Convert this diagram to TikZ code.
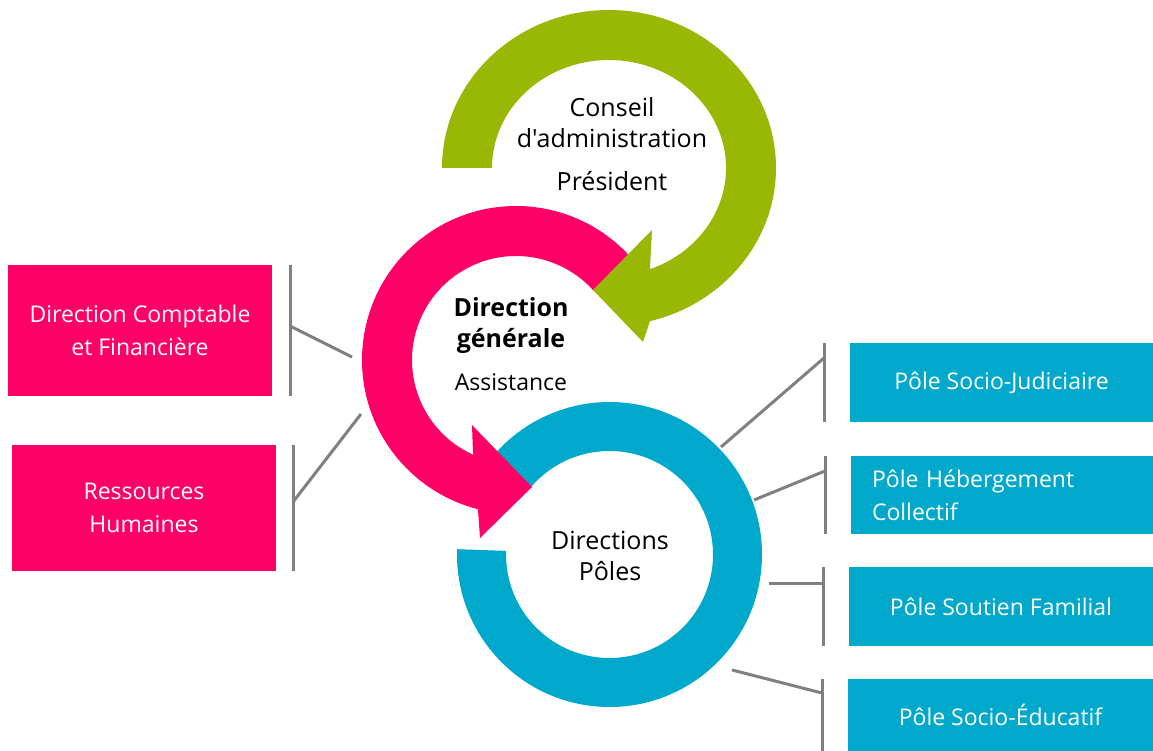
\documentclass[tikz,border=0pt]{standalone}
\usepackage{fontspec}
\setmainfont{Open Sans}[Ligatures=TeXOff]
\definecolor{vertConseil}{RGB}{153,184,5}
\definecolor{roseDir}{RGB}{255,0,102}
\definecolor{bleuPole}{RGB}{0,168,204}
\definecolor{grisTrait}{RGB}{128,128,128}

\begin{document}
\begin{tikzpicture}[x=1pt, y=-1pt,
		boite/.style={rectangle, inner sep=0pt, align=center, text=white,
			font=\fontsize{23}{33}\selectfont},
		centre/.style={align=center, inner sep=0pt, font=\fontsize{25}{31}\selectfont},
		trait/.style={draw=grisTrait, line width=3pt}
		]
		\useasboundingbox (0,0) rectangle (1153,751);
		
		% anneaux fleches
		\fill[bleuPole] ([shift={(609.5,554.5)}]182:152.5) arc[start angle=182, end angle=-139, radius=152.5]
		-- ([shift={(609.5,554.5)}]-139:103.5) arc[start angle=-139, end angle=182, radius=103.5] -- cycle;
		\fill[roseDir] ([shift={(516,360)}]-42:154) arc[start angle=-42, end angle=-255.7, radius=154]
		-- (480,538) -- (532,487) -- (472,425)
		-- ([shift={(516,360)}]-245.6:104) arc[start angle=-245.6, end angle=-42, radius=104] -- cycle;
		\fill[vertConseil] ([shift={(609,168)}]180:167 and 158) arc[start angle=180, end angle=435.8, x radius=167, y radius=158]
		-- (643,342) -- (593,290) -- (652,230)
		-- ([shift={(609,168)}]429.5:117 and 108) arc[start angle=429.5, end angle=180, x radius=117, y radius=108] -- cycle;
		
		\node[centre] (conseil) at (612,144) {Conseil\\d'administration\\[12pt]Président};
		\node[centre] (dg)      at (511,344) {\textbf{Direction}\\\textbf{générale}\\[12pt]{\fontsize{23}{31}\selectfont Assistance}};
		\node[centre] (poles)   at (610,556) {Directions\\Pôles};
		
		\node[boite, fill=roseDir, minimum width=264pt, minimum height=131pt] (dcf) at (140,330.5) {Direction Comptable\\et Financière};
		\node[boite, fill=roseDir, minimum width=264pt, minimum height=126pt] (rh)  at (144,508)   {Ressources\\Humaines};
		\node[boite, fill=bleuPole, minimum width=303pt, minimum height=79pt] (psj) at (1001.5,382.5) {Pôle Socio-Judiciaire};
		\node[boite, fill=bleuPole, minimum width=302pt, minimum height=78pt, text width=260pt,
		inner xsep=21pt, align=left] (phc) at (1002,495) {Pôle Hébergement\\Collectif};
		\node[boite, fill=bleuPole, minimum width=304pt, minimum height=79pt] (psf) at (1001,606.5) {Pôle Soutien Familial};
		\node[boite, fill=bleuPole, minimum width=305pt, minimum height=72pt] (pse) at (1000.5,715) {Pôle Socio-Éducatif};
		
		% points d'attache
		\coordinate (a1) at (352,357);
		\coordinate (a2) at (361,414);
		\coordinate (b1) at (721,447);
		\coordinate (b2) at (754,500);
		\coordinate (b3) at (769,583);
		\coordinate (b4) at (732,670);
		\coordinate (j1) at (290,326);
		\coordinate (j2) at (293,502);
		\coordinate (k1) at (824,358);
		\coordinate (k2) at (825,471);
		\coordinate (k3) at (823,583);
		\coordinate (k4) at (822,693);
		
		\draw[trait] (j1 |- dcf.north) -- (j1 |- dcf.south);
		\draw[trait] (j2 |- rh.north) -- (j2 |- rh.south);
		\draw[trait] (a1) -- (j1);
		\draw[trait] (a2) -- (j2);
		\foreach \n/\b in {1/psj, 2/phc, 3/psf, 4/pse}{
			\draw[trait] (k\n |- \b.north) -- (k\n |- \b.south);
			\draw[trait] (b\n) -- (k\n);
		}
\end{tikzpicture}
\end{document}
